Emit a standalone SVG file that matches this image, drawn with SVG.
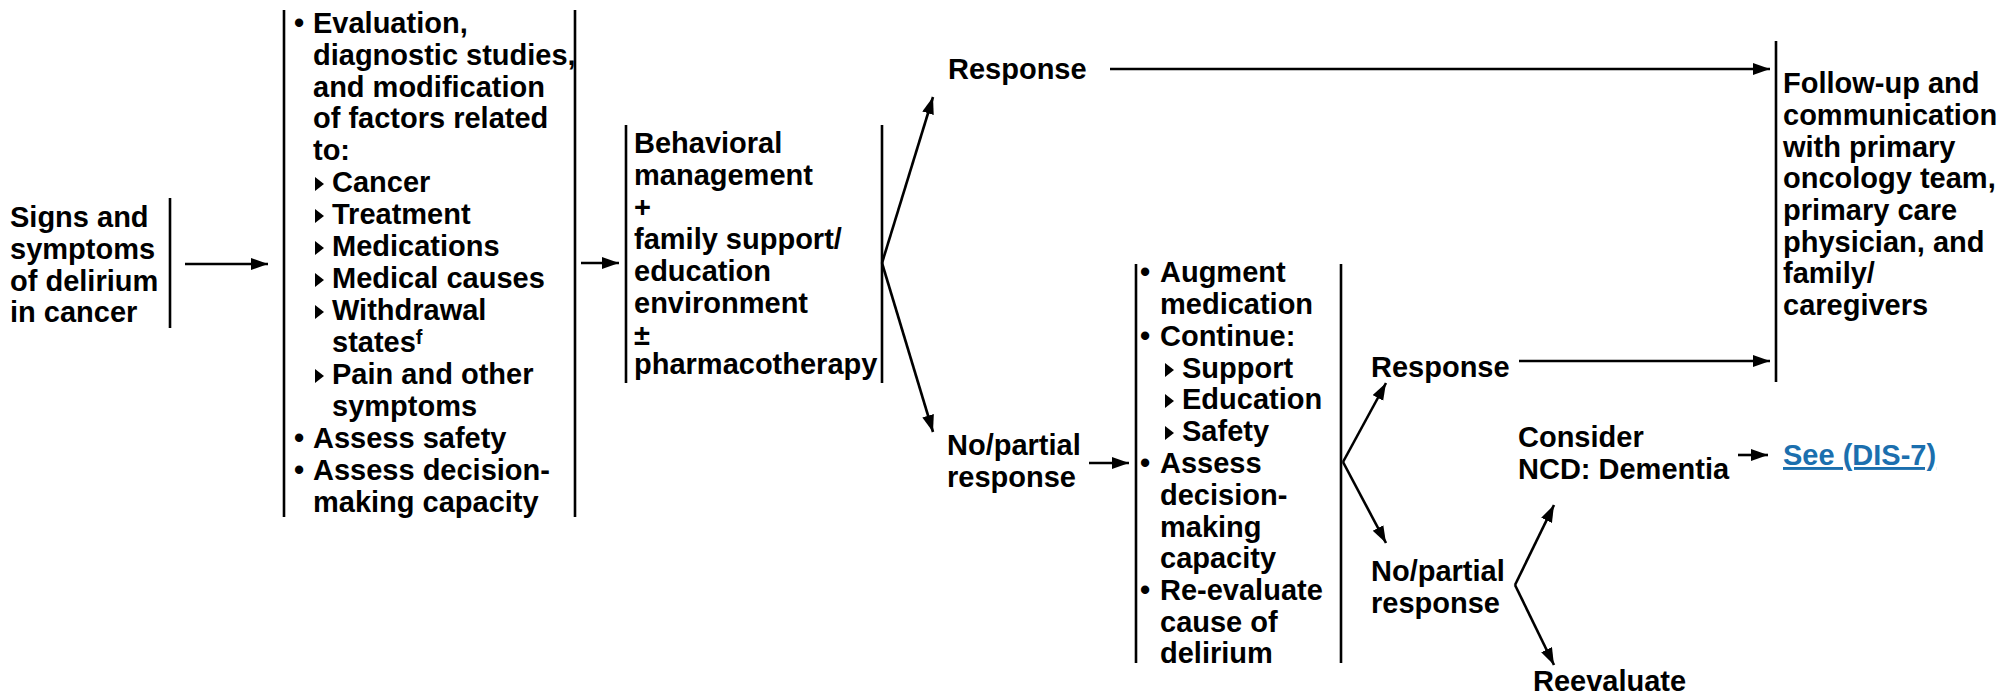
<svg xmlns="http://www.w3.org/2000/svg" width="2003" height="696" viewBox="0 0 2003 696">
<style>
.t{font-family:"Liberation Sans",Arial,Helvetica,sans-serif;font-size:29px;font-weight:bold;fill:#000}
.ln{stroke:#000;stroke-width:2.6;fill:none}
.cn{stroke:#000;stroke-width:2.6;fill:none;marker-end:url(#ah)}
.link{fill:#1b6fae;text-decoration:underline}
</style>
<defs>
<marker id="ah" markerUnits="userSpaceOnUse" markerWidth="18" markerHeight="13" refX="17" refY="6" orient="auto">
<path d="M0,0 L17,6 L0,12 z" fill="#000"/>
</marker>
<polygon id="tri" points="0,-7 9,0 0,7" fill="#000"/>
</defs>
<rect width="2003" height="696" fill="#fff"/>

<g id="n_signs">
<line class="ln" x1="170" y1="198" x2="170" y2="328"/>
<text class="t" x="10" y="227">Signs and</text>
<text class="t" x="10" y="259">symptoms</text>
<text class="t" x="10" y="291">of delirium</text>
<text class="t" x="10" y="322">in cancer</text>
</g>

<g id="n_evaluation">
<line class="ln" x1="284" y1="10" x2="284" y2="517"/>
<line class="ln" x1="575" y1="10" x2="575" y2="517"/>
<text class="t" x="294" y="33">•</text>
<text class="t" x="313" y="33">Evaluation,</text>
<text class="t" x="313" y="65">diagnostic studies,</text>
<text class="t" x="313" y="97">and modification</text>
<text class="t" x="313" y="128">of factors related</text>
<text class="t" x="313" y="160">to:</text>
<use href="#tri" x="315" y="184"/>
<text class="t" x="332" y="192">Cancer</text>
<use href="#tri" x="315" y="216"/>
<text class="t" x="332" y="224">Treatment</text>
<use href="#tri" x="315" y="248"/>
<text class="t" x="332" y="256">Medications</text>
<use href="#tri" x="315" y="280"/>
<text class="t" x="332" y="288">Medical causes</text>
<use href="#tri" x="315" y="312"/>
<text class="t" x="332" y="320">Withdrawal</text>
<text class="t" x="332" y="352">states<tspan font-size="20" dy="-8">f</tspan></text>
<use href="#tri" x="315" y="376"/>
<text class="t" x="332" y="384">Pain and other</text>
<text class="t" x="332" y="416">symptoms</text>
<text class="t" x="294" y="448">•</text>
<text class="t" x="313" y="448">Assess safety</text>
<text class="t" x="294" y="480">•</text>
<text class="t" x="313" y="480">Assess decision-</text>
<text class="t" x="313" y="512">making capacity</text>
</g>

<g id="n_behavioral">
<line class="ln" x1="626" y1="125" x2="626" y2="383"/>
<line class="ln" x1="882" y1="125" x2="882" y2="383"/>
<text class="t" x="634" y="153">Behavioral</text>
<text class="t" x="634" y="185">management</text>
<text class="t" x="634" y="217">+</text>
<text class="t" x="634" y="249">family support/</text>
<text class="t" x="634" y="281">education</text>
<text class="t" x="634" y="313">environment</text>
<text class="t" x="634" y="345">±</text>
<text class="t" x="634" y="374">pharmacotherapy</text>
</g>

<g id="n_response1">
<text class="t" x="948" y="79">Response</text>
</g>

<g id="n_nopartial1">
<text class="t" x="947" y="455">No/partial</text>
<text class="t" x="947" y="487">response</text>
</g>

<g id="n_augment">
<line class="ln" x1="1136" y1="264" x2="1136" y2="663"/>
<line class="ln" x1="1341" y1="264" x2="1341" y2="663"/>
<text class="t" x="1140" y="282">•</text>
<text class="t" x="1160" y="282">Augment</text>
<text class="t" x="1160" y="314">medication</text>
<text class="t" x="1140" y="346">•</text>
<text class="t" x="1160" y="346">Continue:</text>
<use href="#tri" x="1165" y="370"/>
<text class="t" x="1182" y="378">Support</text>
<use href="#tri" x="1165" y="401"/>
<text class="t" x="1182" y="409">Education</text>
<use href="#tri" x="1165" y="433"/>
<text class="t" x="1182" y="441">Safety</text>
<text class="t" x="1140" y="473">•</text>
<text class="t" x="1160" y="473">Assess</text>
<text class="t" x="1160" y="505">decision-</text>
<text class="t" x="1160" y="537">making</text>
<text class="t" x="1160" y="568">capacity</text>
<text class="t" x="1140" y="600">•</text>
<text class="t" x="1160" y="600">Re-evaluate</text>
<text class="t" x="1160" y="632">cause of</text>
<text class="t" x="1160" y="663">delirium</text>
</g>

<g id="n_response2">
<text class="t" x="1371" y="377">Response</text>
</g>

<g id="n_nopartial2">
<text class="t" x="1371" y="581">No/partial</text>
<text class="t" x="1371" y="613">response</text>
</g>

<g id="n_followup">
<line class="ln" x1="1776" y1="41" x2="1776" y2="382"/>
<text class="t" x="1783" y="93">Follow-up and</text>
<text class="t" x="1783" y="125">communication</text>
<text class="t" x="1783" y="157">with primary</text>
<text class="t" x="1783" y="188">oncology team,</text>
<text class="t" x="1783" y="220">primary care</text>
<text class="t" x="1783" y="252">physician, and</text>
<text class="t" x="1783" y="283">family/</text>
<text class="t" x="1783" y="315">caregivers</text>
</g>

<g id="n_dementia">
<text class="t" x="1518" y="447">Consider</text>
<text class="t" x="1518" y="479">NCD: Dementia</text>
</g>

<g id="n_see">
<text class="t link" x="1783" y="465">See (DIS-7)</text>
</g>

<g id="n_reevaluate">
<text class="t" x="1533" y="691">Reevaluate</text>
</g>

<g id="connectors">
<line class="cn" x1="185" y1="264" x2="268" y2="264"/>
<line class="cn" x1="581" y1="263" x2="619" y2="263"/>
<polyline class="cn" points="882,263 933,97"/>
<polyline class="cn" points="882,263 933,432"/>
<line class="cn" x1="1110" y1="69" x2="1770" y2="69"/>
<line class="cn" x1="1089" y1="463" x2="1129" y2="463"/>
<polyline class="cn" points="1343,462 1386,383"/>
<polyline class="cn" points="1343,462 1386,543"/>
<line class="cn" x1="1519" y1="361" x2="1770" y2="361"/>
<polyline class="cn" points="1515,585 1554,505"/>
<polyline class="cn" points="1515,585 1554,665"/>
<line class="cn" x1="1738" y1="455" x2="1768" y2="455"/>
</g>
</svg>
